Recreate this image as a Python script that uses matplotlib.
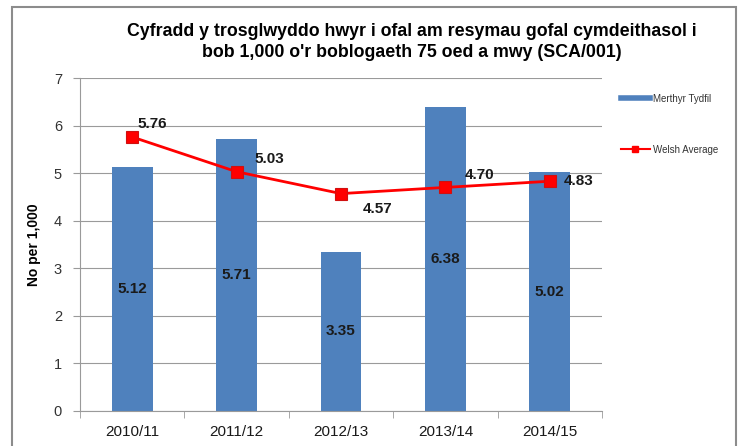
import matplotlib
matplotlib.use('Agg')
import matplotlib.pyplot as plt
from matplotlib.patches import Rectangle
from matplotlib.lines import Line2D

# data
years = ['2010/11', '2011/12', '2012/13', '2013/14', '2014/15']
merthyr = [5.12, 5.71, 3.35, 6.38, 5.02]
welsh = [5.76, 5.03, 4.57, 4.70, 4.83]

plt.rcParams['font.family'] = ['Liberation Sans', 'DejaVu Sans']

fig = plt.figure(figsize=(7.42, 4.46), dpi=100)
W, H = 742, 446
ax = fig.add_axes([80 / W, 1 - 411 / H, 522 / W, 333 / H])

# outer frame of the chart
fig.patches.append(Rectangle((12 / W, -0.05), 724 / W, 1 - 7 / H + 0.05,
                             transform=fig.transFigure, fill=False,
                             edgecolor='#8c8c8c', linewidth=1.5))

x = range(len(years))
ax.bar(x, merthyr, width=0.39, color='#4f81bd', zorder=2)
ax.plot(x, welsh, color='#ff0000', linewidth=2, marker='s', markersize=9,
        markerfacecolor='#ff0000', markeredgecolor='#d01010',
        markeredgewidth=0.8, zorder=3)

for i, v in enumerate(merthyr):
    ax.text(i, v / 2, '%.2f' % v, ha='center', va='center', fontsize=11,
            fontweight='bold', color='#1a1a1a', zorder=4)

# label offsets for the line (x in categories, y in data units)
offsets = [(0.05, 0.28), (0.17, 0.27), (0.21, -0.32), (0.19, 0.27), (0.13, 0.0)]
for i, v in enumerate(welsh):
    dx, dy = offsets[i]
    ax.text(i + dx, v + dy, '%.2f' % v, ha='left', va='center', fontsize=11,
            fontweight='bold', color='#1a1a1a', zorder=4)

ax.set_xlim(-0.5, 4.5)
ax.set_ylim(0, 7)
ax.set_yticks(range(8))
ax.set_xticks(x)
ax.set_xticklabels(years)
ax.grid(axis='y', color='#9a9a9a', linewidth=0.8, zorder=0)
for s in ['top', 'right']:
    ax.spines[s].set_visible(False)
ax.spines['left'].set_color('#9a9a9a')
ax.spines['bottom'].set_color('#9a9a9a')
ax.tick_params(axis='y', length=5, color='#9a9a9a', labelsize=10.5, pad=8,
               labelcolor='#333333')
ax.tick_params(axis='x', length=0, labelsize=11, pad=10, labelcolor='#1a1a1a')
# category boundary ticks
ax.set_xticks([i - 0.5 for i in range(6)], minor=True)
ax.tick_params(axis='x', which='minor', length=5, color='#9a9a9a')

ax.set_ylabel('No per 1,000', fontsize=10, fontweight='bold', labelpad=9)

fig.text(412 / W, 1 - 42 / H,
         "Cyfradd y trosglwyddo hwyr i ofal am resymau gofal cymdeithasol i\n"
         "bob 1,000 o'r boblogaeth 75 oed a mwy (SCA/001)",
         ha='center', va='center', fontsize=12.8, fontweight='bold',
         linespacing=1.25)

# legend
h1 = Line2D([], [], color='#4f81bd', linewidth=4)
h2 = Line2D([], [], color='#ff0000', linewidth=1.5, marker='s', markersize=4)
fig.legend([h1, h2], ['Merthyr Tydfil', 'Welsh Average'],
           loc='upper left', bbox_to_anchor=(612 / W, 1 - 85 / H),
           frameon=False, fontsize=7, labelspacing=4.2, handlelength=3,
           handletextpad=0.3, labelcolor='#333333')

fig.savefig('out.png', dpi=100)
